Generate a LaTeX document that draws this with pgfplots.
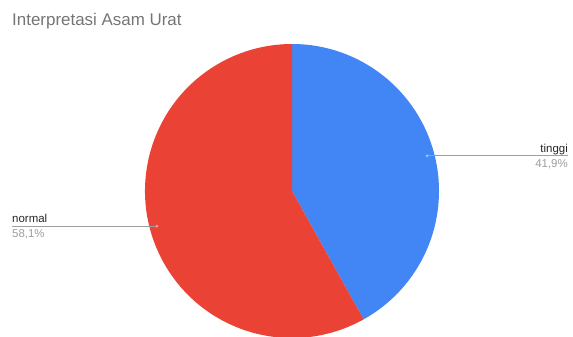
\documentclass[border=0pt]{standalone}
\usepackage{pgfplots}
\pgfplotsset{compat=1.18}
\usepackage{pgfplotstable}
\usepackage{fontspec}
\setmainfont{Liberation Sans}
\definecolor{gblue}{HTML}{4285F4}
\definecolor{gred}{HTML}{EA4335}
\definecolor{titlegray}{HTML}{757575}
\definecolor{pctgray}{HTML}{9E9E9E}
\definecolor{linegray}{HTML}{9E9E9E}
\pgfplotstableread{
label value
tinggi 41.9
normal 58.1
}\piedata
\begin{document}
\begin{tikzpicture}
\pgfplotstablegetelem{0}{value}\of\piedata \let\va\pgfplotsretval
\pgfplotstablegetelem{1}{value}\of\piedata \let\vb\pgfplotsretval
\pgfmathsetmacro{\aend}{90-3.6*\va}
\pgfmathsetmacro{\bend}{\aend-3.6*\vb}
\pgfmathsetmacro{\amid}{90-1.8*\va}
\pgfmathsetmacro{\bmid}{\aend-1.8*\vb}
\def\cx{292}\def\cy{146}\def\R{147}
\pgfmathsetmacro{\dax}{\cx+0.95*\R*cos(\amid)}
\pgfmathsetmacro{\day}{\cy+0.95*\R*sin(\amid)}
\pgfmathsetmacro{\dbx}{\cx+0.95*\R*cos(\bmid)}
\pgfmathsetmacro{\dby}{\cy+0.95*\R*sin(\bmid)}
\begin{axis}[width=573bp,height=337bp,scale only axis,hide axis,
  xmin=0,xmax=573,ymin=0,ymax=337,clip=true]
\fill[gblue] (axis cs:\cx,\cy) -- ++(90:\R bp) arc[start angle=90,end angle=\aend,radius=\R bp] -- cycle;
\fill[gred] (axis cs:\cx,\cy) -- ++(\aend:\R bp) arc[start angle=\aend,end angle=\bend,radius=\R bp] -- cycle;
% leader lines
\draw[linegray,line width=0.9bp] (axis cs:\dax,\day) -- (axis cs:568,\day);
\draw[linegray,line width=0.9bp] (axis cs:\dbx,\dby) -- (axis cs:12,\dby);
\fill[gblue!55!white] (axis cs:\dax,\day) circle (1.6bp);
\fill[gred!55!white] (axis cs:\dbx,\dby) circle (1.6bp);
% labels
\node[anchor=base east,inner sep=0,text=black!85,font=\fontsize{11.5}{13}\selectfont] at (axis cs:568,184.3) {tinggi};
\node[anchor=base east,inner sep=0,text=pctgray,font=\fontsize{11.5}{13}\selectfont] at (axis cs:568,169) {41,9\%};
\node[anchor=base west,inner sep=0,text=black!85,font=\fontsize{11.5}{13}\selectfont] at (axis cs:12,114.3) {normal};
\node[anchor=base west,inner sep=0,text=pctgray,font=\fontsize{11.5}{13}\selectfont] at (axis cs:12,99) {58,1\%};
% title
\node[anchor=base west,inner sep=0,text=titlegray,font=\fontsize{17}{20}\selectfont] at (axis cs:12,311) {Interpretasi Asam Urat};
\end{axis}
\path (current axis.south west) rectangle (current axis.north east);
\end{tikzpicture}
\end{document}
